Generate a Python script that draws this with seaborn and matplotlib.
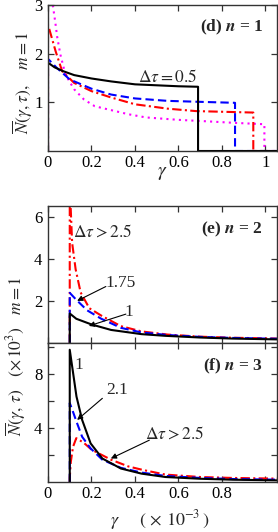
import matplotlib

matplotlib.use("Agg")
import matplotlib.pyplot as plt
import pandas as pd
import seaborn as sns

# ---- panel (d): n = 1 ----
d_black_x = [0, 0, 0.005, 0.03, 0.07, 0.12, 0.2, 0.29, 0.4, 0.5, 0.6, 0.69, 0.69, 1.06]
d_black_y = [0, 1.80, 1.80, 1.72, 1.64, 1.56, 1.49, 1.43, 1.37, 1.35, 1.33, 1.32, 0, 0]
d_blue_x = [0, 0, 0.003, 0.04, 0.1, 0.2, 0.29, 0.4, 0.55, 0.7, 0.86, 0.86, 1.06]
d_blue_y = [0, 1.88, 1.88, 1.71, 1.47, 1.28, 1.16, 1.08, 1.03, 1.01, 0.99, 0, 0]
d_red_x = [0, 0, 0.003, 0.035, 0.065, 0.12, 0.2, 0.29, 0.4, 0.55, 0.68, 0.944, 0.944, 1.06]
d_red_y = [0, 2.55, 2.55, 2.05, 1.64, 1.40, 1.23, 1.10, 0.96, 0.87, 0.82, 0.79, 0, 0]
d_mag_x = [0, 0, 0.01, 0.022, 0.034, 0.042, 0.057, 0.08, 0.12, 0.165, 0.215, 0.29,
           0.37, 0.45, 0.6, 0.73, 0.85, 0.995, 0.995, 1.06]
d_mag_y = [0, 3.5, 3.4, 3.0, 2.63, 2.35, 1.98, 1.57, 1.27, 1.06, 0.92, 0.84,
           0.755, 0.69, 0.64, 0.61, 0.58, 0.55, 0, 0]

# ---- panel (e): n = 2 ----
e_black_x = [0.1, 0.1, 0.13, 0.2, 0.29, 0.43, 0.54, 0.7, 0.85, 1.06]
e_black_y = [0, 1.40, 1.15, 0.88, 0.62, 0.42, 0.34, 0.26, 0.21, 0.17]
e_blue_x = [0.1, 0.1, 0.13, 0.18, 0.245, 0.335, 0.43, 0.55, 0.7, 0.85, 1.06]
e_blue_y = [0, 2.38, 2.05, 1.55, 1.15, 0.72, 0.50, 0.38, 0.29, 0.24, 0.20]
e_red_x = [0.1, 0.1, 0.104, 0.111, 0.127, 0.15, 0.19, 0.245, 0.335, 0.43, 0.55, 0.7, 0.85, 1.06]
e_red_y = [0, 7.5, 6.5, 4.75, 3.5, 2.4, 1.65, 1.3, 0.8, 0.55, 0.40, 0.30, 0.25, 0.21]

# ---- panel (f): n = 3 ----
f_black_x = [0.1, 0.1, 0.111, 0.131, 0.157, 0.196, 0.25, 0.335, 0.43, 0.54, 0.7, 0.85, 1.06]
f_black_y = [0, 9.8, 8.57, 6.33, 4.6, 2.86, 1.74, 1.0, 0.62, 0.37, 0.24, 0.17, 0.12]
f_blue_x = [0.1, 0.1, 0.115, 0.131, 0.157, 0.196, 0.25, 0.335, 0.43, 0.54, 0.7, 0.85, 1.06]
f_blue_y = [0, 5.85, 5.2, 4.47, 3.35, 2.49, 1.65, 1.05, 0.7, 0.45, 0.3, 0.22, 0.17]
f_red_x = [0.1, 0.1, 0.105, 0.115, 0.13, 0.165, 0.2, 0.29, 0.37, 0.44, 0.54, 0.7, 0.85, 1.06]
f_red_y = [0, 0.3, 1.5, 2.6, 3.25, 2.9, 2.4, 1.65, 1.15, 0.88, 0.55, 0.37, 0.3, 0.25]

x_ticks = [0, 0.2, 0.4, 0.6, 0.8, 1.0]
d_xticklabels = ["0", "0.2", "0.4", "0.6", "0.8", "1"]
f_xticklabels = ["0", "0.2", "0.4", "0.6", "0.8", ""]

BLACK, BLUE, RED, MAGENTA = "#000000", "#0000ff", "#ff0000", "#ff00ff"
DASHED = (0, (4, 2))
DASHDOT = (0, (4.5, 1.6, 1, 1.6))
DOTTED = (0, (1, 2))

sns.set_theme(style="ticks")
plt.rcParams.update({
    "font.family": ["Liberation Serif", "DejaVu Serif"],
    "mathtext.fontset": "stix",
    "axes.linewidth": 1.0,
    "axes.edgecolor": "#333333",
    "xtick.direction": "in",
    "ytick.direction": "in",
    "xtick.top": True,
    "ytick.right": True,
    "xtick.major.size": 4.5,
    "ytick.major.size": 4.5,
    "xtick.minor.size": 4.5,
    "ytick.minor.size": 4.5,
    "xtick.major.width": 0.9,
    "ytick.major.width": 0.9,
    "ytick.minor.width": 0.9,
    "xtick.labelsize": 12,
    "ytick.labelsize": 12,
    "xtick.major.pad": 3,
    "ytick.major.pad": 4,
    "lines.solid_capstyle": "butt",
})


def curve(ax, xs, ys, color, ls):
    df = pd.DataFrame({"x": xs, "y": ys})
    sns.lineplot(data=df, x="x", y="y", sort=False, estimator=None, color=color,
                 linestyle=ls, linewidth=1.5, ax=ax)


fig = plt.figure(figsize=(2.78, 5.32), dpi=100)
left, width = 48 / 278, 229 / 278
ax_d = fig.add_axes([left, 1 - 151 / 532, width, 146 / 532])
ax_e = fig.add_axes([left, 1 - 343 / 532, width, 137 / 532])
ax_f = fig.add_axes([left, 1 - 482 / 532, width, 139 / 532])

# panel d
curve(ax_d, d_mag_x, d_mag_y, MAGENTA, DOTTED)
curve(ax_d, d_red_x, d_red_y, RED, DASHDOT)
curve(ax_d, d_blue_x, d_blue_y, BLUE, DASHED)
curve(ax_d, d_black_x, d_black_y, BLACK, "-")
ax_d.set_xlim(0, 1.053)
ax_d.set_ylim(0, 3)
ax_d.set_yticks([1, 2, 3])
ax_d.set_xticks(x_ticks)
ax_d.set_xticklabels(d_xticklabels)
panel_kw = dict(ha="right", va="center", fontsize=12.5, fontweight="bold")
ax_d.text(0.99, 2.55, r"(d) $\mathbfit{n}$ = 1", **panel_kw)
ax_d.text(0.55, 1.5, r"$\Delta\tau = 0.5$", ha="center", va="center", fontsize=12.5)

# panel e
curve(ax_e, e_red_x, e_red_y, RED, DASHDOT)
curve(ax_e, e_blue_x, e_blue_y, BLUE, DASHED)
curve(ax_e, e_black_x, e_black_y, BLACK, "-")
ax_e.set_xlim(0, 1.053)
ax_e.set_ylim(0, 6.5)
ax_e.set_yticks([2, 4, 6])
ax_e.set_xticks(x_ticks)
ax_e.set_xticklabels([])
ax_e.text(0.99, 5.39, r"(e) $\mathbfit{n}$ = 2", **panel_kw)
ax_e.text(0.25, 5.24, r"$\Delta\tau > 2.5$", ha="center", va="center", fontsize=12.5)
arrow = dict(arrowstyle="-|>", color="black", lw=0.8, mutation_scale=8, shrinkA=0, shrinkB=0)
ax_e.annotate("", xy=(0.134, 2.0), xytext=(0.266, 2.68), arrowprops=arrow)
ax_e.text(0.335, 2.87, "1.75", ha="center", va="center", fontsize=12.5)
ax_e.annotate("", xy=(0.188, 0.81), xytext=(0.358, 1.37), arrowprops=arrow)
ax_e.text(0.372, 1.45, "1", ha="center", va="center", fontsize=12.5)

# panel f
curve(ax_f, f_red_x, f_red_y, RED, DASHDOT)
curve(ax_f, f_blue_x, f_blue_y, BLUE, DASHED)
curve(ax_f, f_black_x, f_black_y, BLACK, "-")
ax_f.set_xlim(0, 1.053)
ax_f.set_ylim(0, 10.3)
ax_f.set_yticks([4, 8])
ax_f.set_yticks([2, 6, 10], minor=True)
ax_f.set_xticks(x_ticks)
ax_f.set_xticklabels(f_xticklabels)
ax_f.text(0.99, 8.57, r"(f) $\mathbfit{n}$ = 3", **panel_kw)
ax_f.text(0.144, 8.7, "1", ha="center", va="center", fontsize=12.5)
ax_f.annotate("", xy=(0.134, 4.6), xytext=(0.25, 6.2), arrowprops=arrow)
ax_f.text(0.318, 6.83, "2.1", ha="center", va="center", fontsize=12.5)
ax_f.annotate("", xy=(0.289, 1.74), xytext=(0.466, 3.1), arrowprops=arrow)
ax_f.text(0.582, 3.53, r"$\Delta\tau > 2.5$", ha="center", va="center", fontsize=12.5)

for ax in (ax_d, ax_e, ax_f):
    ax.set_xlabel("")
    ax.set_ylabel("")
    ax.tick_params(which="both", colors="#333333", labelcolor="black")

fig.text(0.082, 1 - 83 / 532, r"$\overline{N}(\gamma,\tau),\quad m = 1$", rotation=90,
         ha="center", va="center", fontsize=12.5)
fig.text(0.058, 1 - 356 / 532, r"$\overline{N}(\gamma,\,\tau)\quad(\times\,10^{3})\ \ \ m = 1$",
         rotation=90, ha="center", va="center", fontsize=12.5)
fig.text(0.583, 1 - 173 / 532, r"$\gamma$", ha="center", va="center", fontsize=14)
fig.text(0.576, 1 - 520 / 532, r"$\gamma\quad\ \ (\,\times\,10^{-3}\,)$", ha="center",
         va="center", fontsize=13)

fig.savefig("out.png", dpi=100)
